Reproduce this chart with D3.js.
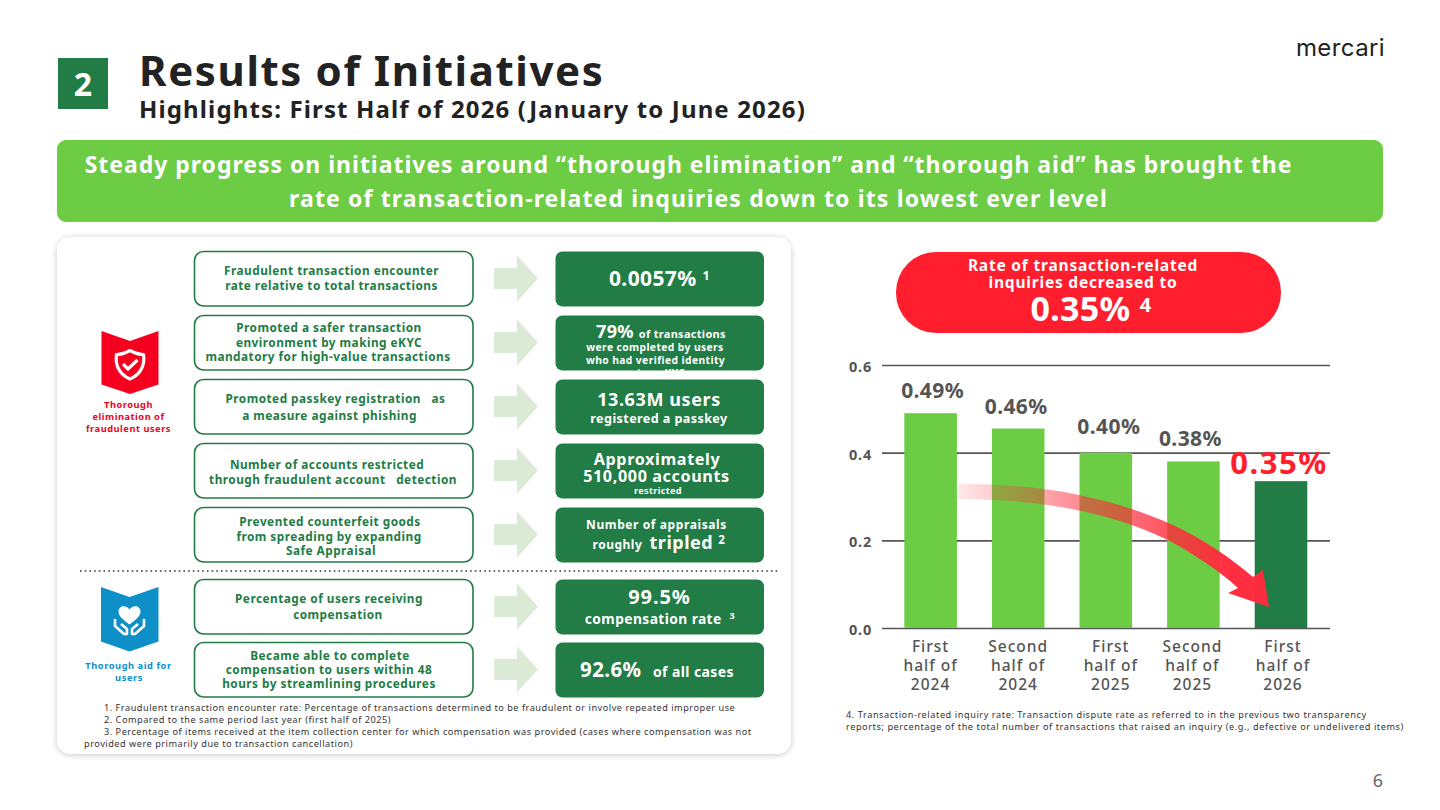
<!DOCTYPE html>
<html>
<head>
<meta charset="utf-8">
<script src="https://cdn.jsdelivr.net/npm/d3@7"></script>
<style>
html, body { margin: 0; background: #fff; }
text { font-family: "Noto Sans", sans-serif; }
</style>
</head>
<body>
<script>
// chart data
var periods = ["First half of 2024", "Second half of 2024", "First half of 2025", "Second half of 2025", "First half of 2026"];
var rates = [0.49, 0.455, 0.40, 0.38, 0.335];
var rateLabels = ["0.49%", "0.46%", "0.40%", "0.38%", "0.35%"];
var yTicks = [0, 0.2, 0.4, 0.6];

// initiative boxes on the left of the card
var initiatives = [
  ["Fraudulent transaction encounter", "rate relative to total transactions"],
  ["Promoted a safer transaction", "environment by making eKYC", "mandatory for high-value transactions"],
  ["Promoted passkey registration\u00a0\u00a0\u00a0as", "a measure against phishing"],
  ["Number of accounts restricted", "through fraudulent account\u00a0\u00a0\u00a0detection"],
  ["Prevented counterfeit goods", "from spreading by expanding", "Safe Appraisal"],
  ["Percentage of users receiving", "compensation"],
  ["Became able to complete", "compensation to users within 48", "hours by streamlining procedures"]
];
var footnotesLeft = [
  "1. Fraudulent transaction encounter rate: Percentage of transactions determined to be fraudulent or involve repeated improper use",
  "2. Compared to the same period last year (first half of 2025)",
  "3. Percentage of items received at the item collection center for which compensation was provided (cases where compensation was not",
  "provided were primarily due to transaction cancellation)"
];
var footnotesRight = [
  "4. Transaction-related inquiry rate: Transaction dispute rate as referred to in the previous two transparency",
  "reports; percentage of the total number of transactions that raised an inquiry (e.g., defective or undelivered items)"
];

var w = 1440;
var h = 810;
var green = "#217c45";
var lime = "#6ccc44";
var red = "#ff1e2d";
var blue = "#0e8fc8";
var gray = "#555555";

var svg = d3.select("body").append("svg")
  .attr("width", w)
  .attr("height", h)
  .style("display", "block");

var defs = svg.append("defs");

var shadow = defs.append("filter").attr("id", "cardShadow")
  .attr("x", "-5%").attr("y", "-5%").attr("width", "110%").attr("height", "110%");
shadow.append("feDropShadow")
  .attr("dx", 0).attr("dy", 1).attr("stdDeviation", 3)
  .attr("flood-color", "#000").attr("flood-opacity", 0.22);

var arrowGrad = defs.append("linearGradient").attr("id", "arrowGrad")
  .attr("gradientUnits", "userSpaceOnUse")
  .attr("x1", 957).attr("y1", 0).attr("x2", 1230).attr("y2", 0);
arrowGrad.append("stop").attr("offset", "0%").attr("stop-color", "#ff2a3c").attr("stop-opacity", 0.1);
arrowGrad.append("stop").attr("offset", "45%").attr("stop-color", "#ff2a3c").attr("stop-opacity", 0.55);
arrowGrad.append("stop").attr("offset", "100%").attr("stop-color", "#ff2a3c").attr("stop-opacity", 0.98);

defs.append("clipPath").attr("id", "clip79")
  .append("rect").attr("x", 556).attr("y", 316).attr("width", 208).attr("height", 55).attr("rx", 7);

// one line of text, runs = [[string, size, optional dy], ...] or a plain string
function label(parent, x, y, runs, size, fill, spacing, anchor, weight) {
  var t = parent.append("text")
    .attr("x", x)
    .attr("y", y)
    .attr("text-anchor", anchor || "middle")
    .attr("fill", fill)
    .attr("font-weight", weight || 700)
    .attr("font-size", size)
    .attr("letter-spacing", spacing || 0);
  if (typeof runs === "string") {
    t.text(runs);
  } else {
    runs.forEach(function(r) {
      var s = t.append("tspan").text(r[0]).attr("font-size", r[1]);
      if (r[2]) s.attr("dy", r[2]);
    });
  }
  return t;
}

// header
svg.append("rect").attr("x", 58).attr("y", 58).attr("width", 50).attr("height", 51).attr("fill", green);
label(svg, 83, 96, "2", 32, "#fff");
label(svg, 139, 86, "Results of Initiatives", 42, "#222", 1.6, "start");
label(svg, 139, 118, "Highlights: First Half of 2026 (January to June 2026)", 24, "#222", 1.13, "start");
svg.append("text").attr("x", 1340.5).attr("y", 56).attr("text-anchor", "middle")
  .attr("font-size", 24).attr("font-weight", 400).attr("fill", "#222").attr("letter-spacing", 0.4)
  .style("font-family", "Inter, sans-serif").text("mercari");

// banner
svg.append("rect").attr("x", 57).attr("y", 140).attr("width", 1326).attr("height", 82).attr("rx", 9).attr("fill", lime);
label(svg, 688.5, 173, "Steady progress on initiatives around \u201cthorough elimination\u201d and \u201cthorough aid\u201d has brought the", 23, "#fff", 0.98);
label(svg, 698.5, 207, "rate of transaction-related inquiries down to its lowest ever level", 23, "#fff", 1.14);

// left card
svg.append("rect").attr("x", 57).attr("y", 237).attr("width", 734).attr("height", 517)
  .attr("rx", 14).attr("fill", "#fff").attr("filter", "url(#cardShadow)");

var rowTops = [251, 315, 379, 443, 507, 579, 642];
var rowHeight = 55;
// first baseline and centre of each text line in the left boxes
var rowBaselines = [[275, 290], [332, 346.5, 361], [403, 420], [469, 484], [526, 541, 555], [603, 619], [660, 674, 688]];
var rowCentres = [[331.5, 331.5], [329, 329, 328], [335.5, 329.5], [327, 333], [330, 329, 331], [329, 338], [330, 329, 329]];

var rows = svg.append("g").selectAll("g")
  .data(initiatives)
  .enter()
  .append("g");

rows.append("rect")
  .attr("x", 194.5)
  .attr("y", function(d, i) { return rowTops[i] + 0.5; })
  .attr("width", 278.5)
  .attr("height", rowHeight - 0.5)
  .attr("rx", 9)
  .attr("fill", "#fff")
  .attr("stroke", green)
  .attr("stroke-width", 1.6);

rows.append("rect")
  .attr("x", 555.5)
  .attr("y", function(d, i) { return rowTops[i] + 0.5; })
  .attr("width", 208.5)
  .attr("height", rowHeight)
  .attr("rx", 7)
  .attr("fill", green);

// pale arrows between the two columns
rows.append("path")
  .attr("fill", "#dcebd6")
  .attr("d", function(d, i) {
    var c = rowTops[i] + 27.5;
    return "M494," + (c - 10.5) + "H517V" + (c - 23) + "L538," + c + "L517," + (c + 23) + "V" + (c + 10.5) + "H494Z";
  });

rows.each(function(d, i) {
  var g = d3.select(this);
  d.forEach(function(line, j) {
    label(g, rowCentres[i][j], rowBaselines[i][j], line, 11.8, green, 0.48);
  });
});

// result boxes
var res = svg.append("g");
label(res, 659.5, 286, [["0.0057% ", 21], ["1", 12.5, -6]], 21, "#fff", 0.4);

var clipped = res.append("g").attr("clip-path", "url(#clip79)");
label(clipped, 661, 338, [["79% ", 18], ["of transactions", 11]], 18, "#fff", 0.3);
label(clipped, 655, 351, "were completed by users", 10.3, "#fff", 0.4);
label(clipped, 655.5, 364, "who had verified identity", 10.3, "#fff", 0.4);
label(clipped, 655, 377, "using eKYC", 10.3, "#fff", 0.4);

label(res, 659, 406, "13.63M users", 18, "#fff", 0.6);
label(res, 659, 423, "registered a passkey", 12.6, "#fff", 0.4);
label(res, 657, 465, "Approximately", 16.2, "#fff", 0.6);
label(res, 656.5, 482, "510,000 accounts", 16.2, "#fff", 0.6);
label(res, 658, 494, "restricted", 9.2, "#fff", 0.3);
label(res, 656.5, 529, "Number of appraisals", 12, "#fff", 0.6);
label(res, 659, 549, [["roughly\u00a0\u00a0", 12], ["tripled ", 18], ["2", 11.5, -5]], 18, "#fff", 0.5);
label(res, 659.5, 604, "99.5%", 20, "#fff", 0.9);
label(res, 660, 624, [["compensation rate\u00a0\u00a0", 13.8], ["3", 9, -5]], 13.8, "#fff", 0.4);
label(res, 657, 677, [["92.6%\u00a0\u00a0", 20.5], ["of all cases", 14]], 20.5, "#fff", 0.4);

// dotted divider
svg.append("line")
  .attr("x1", 80).attr("x2", 778).attr("y1", 571).attr("y2", 571)
  .attr("stroke", "#666").attr("stroke-width", 2)
  .attr("stroke-dasharray", "1.6 3.1");

// red section icon
var iconRed = svg.append("g").attr("transform", "translate(101.5,331)");
iconRed.append("path").attr("d", "M0,0L28.5,10L57,0V53.5L28.5,63L0,53.5Z").attr("fill", "#f5001e");
iconRed.append("path")
  .attr("d", "M28.5,19.5C33,22 38,23.5 42,23.5C43.5,33 40,43 28.5,48C17,43 13.5,33 15,23.5C19,23.5 24,22 28.5,19.5Z")
  .attr("fill", "none").attr("stroke", "#fff").attr("stroke-width", 3.2).attr("stroke-linejoin", "round");
iconRed.append("path")
  .attr("d", "M21.5,33L26.5,38L36,29")
  .attr("fill", "none").attr("stroke", "#fff").attr("stroke-width", 3.2);
label(svg, 128.5, 408, "Thorough", 9.3, "#f5001e", 0.5);
label(svg, 128.5, 420, "elimination of", 9.3, "#f5001e", 0.5);
label(svg, 128.5, 432, "fraudulent users", 9.3, "#f5001e", 0.5);

// blue section icon
var iconBlue = svg.append("g").attr("transform", "translate(101,587)");
iconBlue.append("path").attr("d", "M0,0L28.5,10L57.5,0V54.5L28.5,64.5L0,54.5Z").attr("fill", blue);
iconBlue.append("path")
  .attr("d", "M28.5,37.5C21,32 17.5,28.5 17.5,24.5C17.5,19 24.5,17 28.5,22.5C32.5,17 39.5,19 39.5,24.5C39.5,28.5 36,32 28.5,37.5Z")
  .attr("fill", "#fff");
iconBlue.append("path")
  .attr("d", "M14,32V39L23,47H26V42L20,37M43,32V39L34,47H31V42L37,37")
  .attr("fill", "none").attr("stroke", "#fff").attr("stroke-width", 2.6).attr("stroke-linejoin", "round");
label(svg, 128.5, 669, "Thorough aid for", 9.3, blue, 0.55);
label(svg, 129, 681, "users", 9.3, blue, 0.55);

// footnotes
var footX = [104, 104, 104, 84];
footnotesLeft.forEach(function(t, i) {
  label(svg, footX[i], 711 + i * 12.1, t, 9.2, "#333", 0.5, "start", 400);
});
footnotesRight.forEach(function(t, i) {
  label(svg, 846, 718 + i * 12, t, 9.2, "#333", 0.56, "start", 400);
});

// pill above the chart
svg.append("rect").attr("x", 896).attr("y", 252).attr("width", 385).attr("height", 81).attr("rx", 40).attr("fill", red);
label(svg, 1083, 271, "Rate of transaction-related", 15.5, "#fff", 0.8);
label(svg, 1083, 288, "inquiries decreased to", 15.5, "#fff", 0.8);
label(svg, 1091, 321, [["0.35% ", 34], ["4", 20, -9]], 34, "#fff", 0.3);

// bar chart
var x = d3.scaleBand()
  .domain(periods)
  .range([886.8, 1324.8])
  .paddingInner(0.4)
  .paddingOuter(0.2);

var y = d3.scaleLinear()
  .domain([0, 0.6])
  .range([628, 365]);

var yAxis = svg.append("g")
  .attr("transform", "translate(882,0)")
  .call(d3.axisLeft(y).tickValues(yTicks).tickFormat(d3.format(".1f")).tickSize(-448).tickPadding(10));
yAxis.select(".domain").remove();
yAxis.selectAll(".tick line").attr("stroke", gray).attr("stroke-width", 1.6);
yAxis.selectAll(".tick text")
  .attr("font-family", '"Noto Sans", sans-serif')
  .attr("font-size", 14.5)
  .attr("font-weight", 700)
  .attr("letter-spacing", 0.8)
  .attr("fill", gray)
  .attr("dy", "0.45em");

svg.selectAll(".bar")
  .data(rates)
  .enter()
  .append("rect")
  .attr("class", "bar")
  .attr("x", function(d, i) { return x(periods[i]); })
  .attr("y", function(d) { return y(d); })
  .attr("width", x.bandwidth())
  .attr("height", function(d) { return y(0) - y(d); })
  .attr("fill", function(d, i) { return i === rates.length - 1 ? green : lime; });

// labels are not quite centred on the bars in the slide
var rateNudge = [2, -2, 3, -3, -2];
var rateGap = [15, 15, 18.5, 15, 7];
svg.selectAll(".rate")
  .data(rateLabels)
  .enter()
  .append("text")
  .attr("class", "rate")
  .attr("x", function(d, i) { return x(periods[i]) + x.bandwidth() / 2 + rateNudge[i]; })
  .attr("y", function(d, i) { return y(rates[i]) - rateGap[i]; })
  .attr("text-anchor", "middle")
  .attr("font-size", function(d, i) { return i === rates.length - 1 ? 31 : 21; })
  .attr("font-weight", 700)
  .attr("letter-spacing", function(d, i) { return i === rates.length - 1 ? 1.5 : 0.4; })
  .attr("fill", function(d, i) { return i === rates.length - 1 ? red : gray; })
  .text(function(d) { return d; });

// category labels, three lines each
var catNudge = { "First half of 2025": 5, "Second half of 2025": -1, "First half of 2026": 2 };
var xAxis = svg.append("g")
  .attr("transform", "translate(0,628)")
  .call(d3.axisBottom(x).tickSize(0).tickPadding(0));
xAxis.select(".domain").remove();
xAxis.selectAll(".tick text").each(function(d) {
  var parts = d.split(" ");
  var lines = [parts[0], parts[1] + " " + parts[2], parts[3]];
  var t = d3.select(this).text(null)
    .attr("font-family", '"Noto Sans", sans-serif')
    .attr("font-size", 15.5)
    .attr("font-weight", 500)
    .attr("fill", gray)
    .attr("letter-spacing", 1);
  lines.forEach(function(l, i) {
    t.append("tspan").attr("x", catNudge[d] || 0).attr("y", 24 + i * 19).attr("dy", 0).text(l);
  });
});

// curved arrow over the bars
svg.append("path")
  .attr("d", "M957,484 C1040,483 1110,497 1173,525 C1205,540 1232,559 1253,577 L1263,570 L1269,607 L1228,593 L1238,588 C1220,571 1192,553 1168,540 C1110,512 1040,499 957,499 Z")
  .attr("fill", "url(#arrowGrad)");

// page number
label(svg, 1378, 787, "6", 18, "#666", 0, "middle", 400);
</script>
</body>
</html>
